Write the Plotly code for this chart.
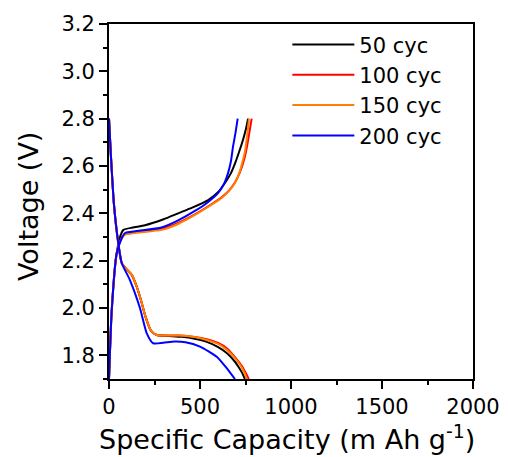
import plotly.graph_objects as go

series_names = ["50 cyc", "100 cyc", "150 cyc", "200 cyc"]
series_colors = ["#000000", "#ff0000", "#ff7f00", "#0000ff"]

# Charge branches (capacity, voltage)
charge_x = [
    [0, 15, 42, 65, 79, 130, 198, 300, 380, 460, 545, 600, 637, 670, 692, 715, 736, 752, 764],
    [0, 15, 42, 70, 88, 150, 289, 380, 472, 550, 619, 660, 692, 720, 745, 760, 772, 784],
    [0, 15, 42, 70, 88, 150, 289, 380, 472, 550, 619, 660, 692, 716, 736, 748, 756, 764, 769],
    [0, 15, 42, 70, 88, 150, 289, 380, 472, 540, 600, 635, 654, 670, 681, 695, 707],
]
charge_y = [
    [1.70, 1.99, 2.23, 2.31, 2.33, 2.34, 2.35, 2.375, 2.40, 2.425, 2.456, 2.49, 2.528, 2.57, 2.61, 2.66, 2.71, 2.755, 2.80],
    [1.70, 1.99, 2.23, 2.295, 2.312, 2.32, 2.335, 2.36, 2.396, 2.432, 2.468, 2.497, 2.53, 2.575, 2.635, 2.69, 2.745, 2.80],
    [1.70, 1.99, 2.23, 2.295, 2.31, 2.318, 2.33, 2.355, 2.393, 2.43, 2.465, 2.495, 2.528, 2.57, 2.625, 2.665, 2.71, 2.76, 2.80],
    [1.70, 1.99, 2.23, 2.295, 2.317, 2.325, 2.34, 2.37, 2.41, 2.445, 2.486, 2.53, 2.57, 2.62, 2.68, 2.74, 2.80],
]

# Discharge branches (capacity, voltage)
discharge_x = [
    [0, 10, 27, 50, 70, 95, 125, 150, 175, 200, 230, 262, 330, 400, 470, 537, 600, 650, 690, 711, 730, 747],
    [0, 10, 27, 50, 70, 95, 125, 150, 175, 200, 230, 262, 330, 390, 470, 537, 600, 650, 700, 730, 755, 768],
    [0, 10, 27, 50, 70, 95, 125, 150, 175, 200, 230, 262, 330, 390, 470, 537, 600, 647, 690, 720, 745, 757],
    [0, 10, 27, 50, 70, 115, 170, 207, 243, 298, 360, 420, 500, 592, 655, 692],
]
discharge_y = [
    [2.80, 2.65, 2.44, 2.28, 2.19, 2.165, 2.14, 2.095, 2.035, 1.965, 1.905, 1.886, 1.882, 1.878, 1.87, 1.857, 1.835, 1.808, 1.775, 1.752, 1.728, 1.70],
    [2.80, 2.65, 2.44, 2.28, 2.19, 2.165, 2.14, 2.095, 2.035, 1.965, 1.905, 1.886, 1.884, 1.884, 1.878, 1.868, 1.852, 1.828, 1.785, 1.755, 1.72, 1.70],
    [2.80, 2.65, 2.44, 2.28, 2.19, 2.165, 2.14, 2.095, 2.035, 1.965, 1.905, 1.886, 1.884, 1.884, 1.877, 1.865, 1.848, 1.823, 1.79, 1.76, 1.725, 1.70],
    [2.80, 2.65, 2.44, 2.28, 2.19, 2.118, 2.0, 1.894, 1.851, 1.853, 1.858, 1.855, 1.837, 1.794, 1.738, 1.70],
]

x_tick_vals = [0, 500, 1000, 1500, 2000]
y_tick_vals = [1.8, 2.0, 2.2, 2.4, 2.6, 2.8, 3.0, 3.2]
y_tick_text = ["1.8", "2.0", "2.2", "2.4", "2.6", "2.8", "3.0", "3.2"]

FONT = "DejaVu Sans"

fig = go.Figure()
for name, color, cx, cy, dx, dy in zip(series_names, series_colors, charge_x, charge_y, discharge_x, discharge_y):
    fig.add_trace(go.Scatter(
        x=cx + [None] + dx,
        y=cy + [None] + dy,
        mode="lines",
        name=name,
        line=dict(color=color, width=2, shape="spline", smoothing=0.6),
        connectgaps=False,
    ))

axis_common = dict(
    showline=True, linecolor="black", linewidth=2, mirror=True,
    ticks="outside", ticklen=8, tickwidth=2, tickcolor="black",
    showgrid=False, zeroline=False,
    tickfont=dict(family=FONT, size=21, color="black"),
)

fig.update_xaxes(
    range=[0, 2000], tickvals=x_tick_vals,
    minor=dict(dtick=250, ticks="outside", ticklen=4, tickwidth=2, tickcolor="black", showgrid=False),
    **axis_common,
)
fig.update_yaxes(
    range=[1.7, 3.2], tickvals=y_tick_vals, ticktext=y_tick_text,
    minor=dict(dtick=0.1, tick0=1.7, ticks="outside", ticklen=4, tickwidth=2, tickcolor="black", showgrid=False),
    **axis_common,
)

# page body has an 8px margin: shrink the figure so the plot area lands on x 109..473, y 24..379
fig.update_layout(
    width=500, height=449,
    margin=dict(l=101, r=35, t=16, b=78, autoexpand=False),
    paper_bgcolor="white", plot_bgcolor="white",
    font=dict(family=FONT, color="black"),
    showlegend=True,
    legend=dict(
        x=0.49, y=0.999, xanchor="left", yanchor="top",
        bgcolor="rgba(0,0,0,0)", borderwidth=0,
        font=dict(family=FONT, size=21, color="black"),
        itemwidth=62, tracegroupgap=0,
    ),
    annotations=[
        dict(text="Specific Capacity (m Ah g<sup>-1</sup>)", xref="paper", yref="paper",
             x=(287 - 109) / 364, y=(379 - 437) / 355, xanchor="center", yanchor="middle",
             showarrow=False, font=dict(family=FONT, size=27, color="black")),
        dict(text="Voltage (V)", xref="paper", yref="paper",
             x=(28 - 109) / 364, y=(379 - 207) / 355, xanchor="center", yanchor="middle",
             textangle=-90, showarrow=False, font=dict(family=FONT, size=27, color="black")),
    ],
)

fig.write_html("out.html")
